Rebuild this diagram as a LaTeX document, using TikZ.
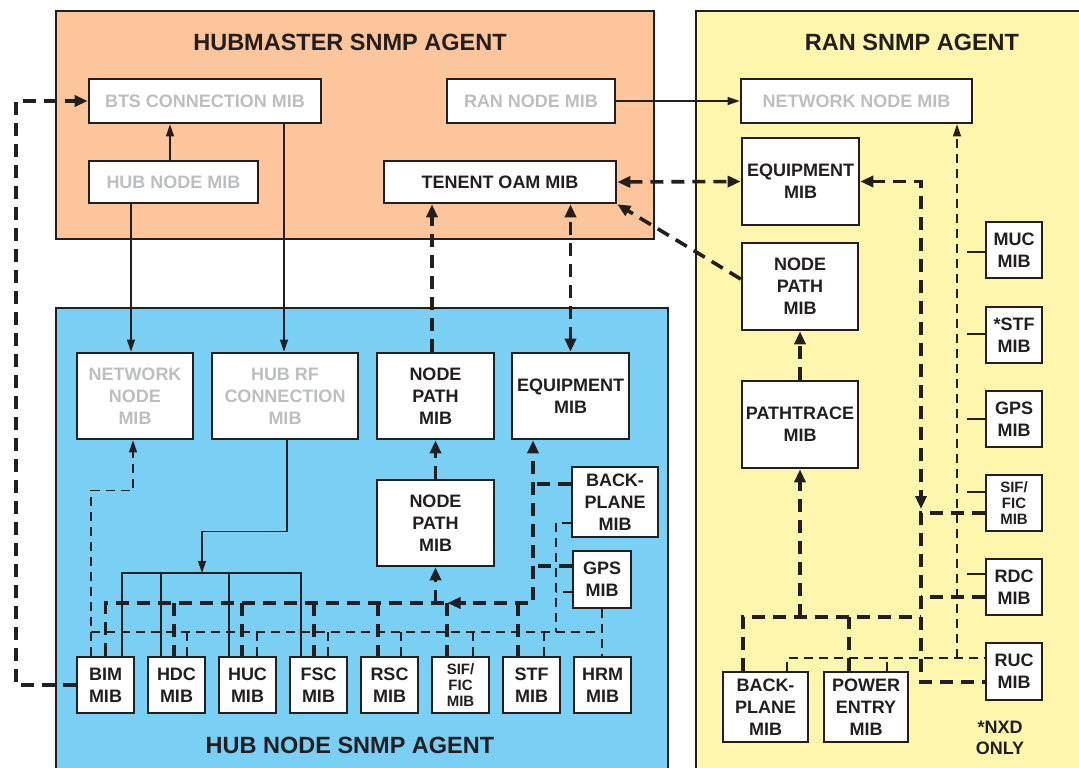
\documentclass[tikz,border=0pt]{standalone}
\usepackage{fontspec}
\setmainfont{Liberation Sans}
\usetikzlibrary{arrows.meta,calc}
\definecolor{ink}{HTML}{231F20}
\definecolor{peach}{HTML}{FCC59B}
\definecolor{lemon}{HTML}{FFF6AE}
\definecolor{sky}{HTML}{79D0F4}
\definecolor{mute}{HTML}{BCBEC0}
\begin{document}
\begin{tikzpicture}[x=1pt,y=-1pt,
 mib/.style={draw=ink,line width=2.6pt,fill=white,inner sep=0pt,align=center,text depth=0pt,font=\fontsize{18}{22}\selectfont\bfseries,text=ink},
 small/.style={font=\fontsize{15}{16}\selectfont\bfseries},
 muted/.style={text=mute},
 ttl/.style={font=\fontsize{23.5}{28}\selectfont\bfseries,text=ink,inner sep=0pt},
 agent/.style={draw=ink,line width=2.4pt},
 fine/.style={draw=ink,line width=1.1pt},
 tdash/.style={draw=ink,line width=1.1pt,dash pattern=on 9pt off 6pt},
 thk/.style={draw=ink,line width=3.6pt,dash pattern=on 13pt off 8pt},
 tip/.style={-{Triangle[length=12pt,width=8pt]}},
 tipk/.style={-{Triangle[length=13pt,width=11pt]}},
 both/.style={{Triangle[length=13pt,width=11pt]}-{Triangle[length=13pt,width=11pt]}}
]
\fill[white] (0,0) rectangle (1079,768);
\useasboundingbox (0,0) rectangle (1079,768);
% agents
\draw[agent,fill=peach] (56,11) rectangle (654,239);
\draw[agent,fill=lemon] (696,11) rectangle (1095,800);
\draw[agent,fill=sky] (56,308) rectangle (668,800);
\node[ttl] (ttlhm) at (350,42) {HUBMASTER SNMP AGENT};
\node[ttl] (ttlran) at (912,42) {RAN SNMP AGENT};
\node[ttl] (ttlhub) at (350,745) {HUB NODE SNMP AGENT};
% hubmaster boxes
\node[mib,muted,minimum width=232pt,minimum height=44pt] (bts) at (205,101) {BTS CONNECTION MIB};
\node[mib,muted,minimum width=169pt,minimum height=42pt] (hubnode) at (173.5,182) {HUB NODE MIB};
\node[mib,muted,minimum width=168pt,minimum height=44pt] (rannode) at (531,101) {RAN NODE MIB};
\node[mib,minimum width=232pt,minimum height=42pt] (tenent) at (500,182) {TENENT OAM MIB};
% RAN boxes
\node[mib,muted,minimum width=231pt,minimum height=44pt] (netnoderan) at (856.5,101) {NETWORK NODE MIB};
\node[mib,minimum width=117pt,minimum height=87pt] (equipran) at (800.5,181.5) {EQUIPMENT\\MIB};
\node[mib,minimum width=116pt,minimum height=87pt] (nodepathran) at (800,286.5) {NODE\\PATH\\MIB};
\node[mib,minimum width=116pt,minimum height=87pt] (pathtrace) at (800,424.5) {PATHTRACE\\MIB};
\node[mib,minimum width=56pt,minimum height=56pt] (muc) at (1014,250) {MUC\\MIB};
\node[mib,minimum width=56pt,minimum height=56pt] (rstf) at (1014,335) {*STF\\MIB};
\node[mib,minimum width=56pt,minimum height=56pt] (rgps) at (1014,419) {GPS\\MIB};
\node[mib,small,minimum width=56pt,minimum height=56pt] (rsif) at (1014,503) {SIF/\\FIC\\MIB};
\node[mib,minimum width=56pt,minimum height=56pt] (rdc) at (1014,587) {RDC\\MIB};
\node[mib,minimum width=56pt,minimum height=57pt] (ruc) at (1014,671.5) {RUC\\MIB};
\node[mib,minimum width=85pt,minimum height=70pt] (bpran) at (765.5,707) {BACK-\\PLANE\\MIB};
\node[mib,minimum width=84pt,minimum height=70pt] (power) at (866,707) {POWER\\ENTRY\\MIB};
\node[font=\fontsize{18}{21}\selectfont\bfseries,text=ink,align=center,inner sep=0pt,text depth=0pt] (nxd) at (1000,738) {*NXD\\ONLY};
% hub node boxes
\node[mib,muted,minimum width=116pt,minimum height=86pt] (netnodehub) at (135,396) {NETWORK\\NODE\\MIB};
\node[mib,muted,minimum width=146pt,minimum height=86pt] (hubrf) at (285,396) {HUB RF\\CONNECTION\\MIB};
\node[mib,minimum width=117pt,minimum height=86pt] (nodepath1) at (435.5,396) {NODE\\PATH\\MIB};
\node[mib,minimum width=117pt,minimum height=86pt] (equiphub) at (570.5,396) {EQUIPMENT\\MIB};
\node[mib,minimum width=117pt,minimum height=86pt] (nodepath2) at (435.5,523) {NODE\\PATH\\MIB};
\node[mib,minimum width=86pt,minimum height=70pt] (bphub) at (615,502) {BACK-\\PLANE\\MIB};
\node[mib,minimum width=58pt,minimum height=57pt] (gpshub) at (602,579.5) {GPS\\MIB};
\node[mib,minimum width=57pt,minimum height=56pt] (bim) at (105.5,685) {BIM\\MIB};
\node[mib,minimum width=57pt,minimum height=56pt] (hdc) at (176.5,685) {HDC\\MIB};
\node[mib,minimum width=57pt,minimum height=56pt] (huc) at (247.5,685) {HUC\\MIB};
\node[mib,minimum width=57pt,minimum height=56pt] (fsc) at (318.5,685) {FSC\\MIB};
\node[mib,minimum width=57pt,minimum height=56pt] (rsc) at (389.5,685) {RSC\\MIB};
\node[mib,small,minimum width=57pt,minimum height=56pt] (sif) at (460.5,685) {SIF/\\FIC\\MIB};
\node[mib,minimum width=57pt,minimum height=56pt] (stf) at (531.5,685) {STF\\MIB};
\node[mib,minimum width=57pt,minimum height=56pt] (hrm) at (602.5,685) {HRM\\MIB};
% thin solid connectors
\coordinate (c1) at ([xshift=-3.5pt]hubnode.north);
\draw[fine,tip] (c1) -- (c1 |- bts.south);
\coordinate (c2) at ([xshift=79pt]bts.south);
\draw[fine,tip] (c2) -- (c2 |- hubrf.north);
\coordinate (c3) at ([xshift=-42.5pt]hubnode.south);
\draw[fine,tip] (c3) -- (c3 |- netnodehub.north);
\draw[fine,tip] (rannode.east) -- (netnoderan.west);
\coordinate (c4) at ([xshift=2pt]hubrf.south);
\coordinate (tree) at (202,573);
\draw[fine,tip] (c4) -- ++(0,91) -| (tree);
\coordinate (t1) at ([xshift=16.5pt]bim.north);
\coordinate (t2) at ([xshift=-15.5pt]hdc.north);
\coordinate (t3) at ([xshift=-18.5pt]huc.north);
\coordinate (t4) at ([xshift=-17.5pt]fsc.north);
\draw[fine] (t1) -- (t1 |- tree) -- (t4 |- tree) -- (t4);
\draw[fine] (t2) -- (t2 |- tree);
\draw[fine] (t3) -- (t3 |- tree);
% thin dashed hub
\coordinate (d1) at ([xshift=-14.5pt]bim.north);
\coordinate (d2) at ([xshift=-2pt]netnodehub.south);
\draw[tdash,tip] (d1) |- ($(d2)+(0,50)$) -- (d2);
\coordinate (tb) at (603,632);
\draw[tdash] (d1 |- tb) -- (tb);
\foreach \b/\s in {hdc/10.5pt,huc/9.5pt,fsc/9.5pt,rsc/11.5pt,sif/12.5pt,stf/12.5pt}{
  \coordinate (tmp) at ([xshift=\s]\b.north);
  \draw[tdash] (tmp |- tb) -- (tmp);
}
\draw[tdash] (gpshub.south) -- (gpshub.south |- hrm.north);
\coordinate (bp2) at ([yshift=-21pt]bphub.west);
\coordinate (gp2) at ([yshift=-12.5pt]gpshub.west);
\coordinate (v556) at (556,632);
\draw[tdash] (bp2) -- (bp2 -| v556) -- (v556);
\draw[tdash] (gp2) -- (gp2 -| v556);
% thick dashed hub
\coordinate (bus) at (533,603);
\coordinate (e1) at ([xshift=-37.5pt]equiphub.south);
\draw[thk,tipk] (bim.north) |- (bus) -- (e1);
\coordinate (b1) at ([yshift=18pt]bphub.west);
\draw[thk] (b1) -- (b1 -| bus);
\coordinate (g1) at ([yshift=13.5pt]gpshub.west);
\draw[thk] (g1) -- (g1 -| bus);
\foreach \b/\s in {hdc/-2.5pt,huc/-5.5pt,fsc/-4.5pt,rsc/-11.5pt,sif/-13.5pt,stf/-13.5pt}{
  \coordinate (tmp) at ([xshift=\s]\b.north);
  \draw[thk] (tmp |- bus) -- (tmp);
}
\draw[thk,tipk] (nodepath2.south |- bus) -- (nodepath2.south);
\coordinate (ah0) at (nodepath2.south |- bus);
\draw[thk,tipk] ([xshift=30pt]ah0) -- ([xshift=12pt]ah0);
\draw[thk,tipk] (nodepath2.north) -- (nodepath1.south);
\coordinate (n1) at ([xshift=-3.5pt]nodepath1.north);
\draw[thk,tipk] (n1) -- (n1 |- tenent.south);
\draw[thk,both] (equiphub.north) -- (equiphub.north |- tenent.south);
\draw[thk,both] (tenent.east) -- (equipran.west);
\coordinate (np) at ([yshift=7.5pt]nodepathran.west);
\draw[thk,tipk] (np) -- (tenent.south east);
\draw[thk,tipk] (bim.west) -- ++(-60,0) |- (bts.west);
% RAN thick dashed
\coordinate (rj) at (921,513);
\coordinate (s1) at ([yshift=-10pt]rsif.west);
\coordinate (ru1) at ([yshift=-10.5pt]ruc.west);
\coordinate (rd1) at ([yshift=-10pt]rdc.west);
\draw[thk,both] (equipran.east) -| ([yshift=4pt]rj);
\draw[thk] (s1) -- (rj) |- (ru1);
\draw[thk] (rd1) -- (rd1 -| rj);
\coordinate (rb) at (921,617);
\coordinate (bp1) at ([xshift=-22.5pt]bpran.north);
\draw[thk] (bp1) |- (rb);
\coordinate (pw1) at ([xshift=-17pt]power.north);
\draw[thk] (pw1) -- (pw1 |- rb);
\draw[thk,tipk] (pathtrace.south |- rb) -- (pathtrace.south);
\draw[thk,tipk] (pathtrace.north) -- (nodepathran.south);
% RAN thin dashed
\coordinate (v1) at ([xshift=100.5pt]netnoderan.south);
\coordinate (rt) at ([yshift=13.5pt]ruc.west);
\coordinate (bp3) at ([xshift=21.5pt]bpran.north);
\draw[tdash] (bp3) |- (rt);
\draw[tdash,tip] (rt -| v1) -- (v1);
\coordinate (pw2) at ([xshift=21pt]power.north);
\draw[tdash] (pw2) -- (pw2 |- rt);
\foreach \b/\s in {muc/-2pt,rstf/1pt,rgps/0pt,rsif/11pt,rdc/13pt}{
  \draw[fine] ([yshift=\s]\b.west) -- ++(-18,0);
}
\end{tikzpicture}
\end{document}
